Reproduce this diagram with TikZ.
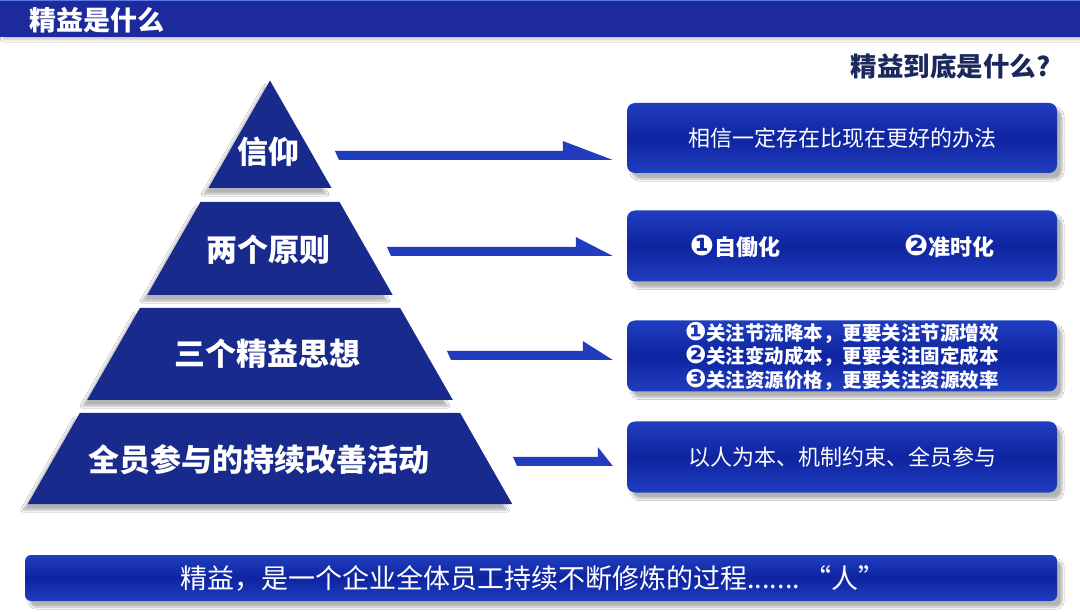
\documentclass[tikz,border=0pt]{standalone}
\usepackage{fontspec}
\setmainfont{Noto Sans CJK SC}
\newfontfamily\dingfont{DejaVu Sans}[Scale=1.3]
\usetikzlibrary{positioning, calc, shadows.blur}

\definecolor{headblue}{RGB}{28,42,158}
\definecolor{headline}{RGB}{90,120,225}
\definecolor{pyrblue}{RGB}{24,42,140}
\definecolor{cardblue}{RGB}{14,36,160}
\definecolor{cardtop}{RGB}{32,62,192}
\definecolor{harpblue}{RGB}{34,60,190}
\definecolor{asknavy}{RGB}{26,40,92}

% half-arrow from a start coordinate to the west side of a card
\newcommand{\harpoon}[3]{%
  \fill[harp] ($(#1)+(0,-4)$) -- ($(#2.west |- #1)+({-14-#3},-4)$)
    -- ($(#2.west |- #1)+({-14-#3},-14)$) -- ($(#2.west |- #1)+(-14,5)$)
    -- ($(#1)+(4,5)$) -- cycle;}

\begin{document}
\begin{tikzpicture}[
    x=1pt, y=-1pt,
    font=\fontsize{22}{26}\selectfont,
    tier/.style={fill=pyrblue, blur shadow={shadow xshift=-5pt, shadow yshift=-6pt,
                 shadow opacity=30, shadow blur steps=6}},
    tiertext/.style={text=white, font=\fontsize{31}{35}\selectfont\bfseries},
    card/.style={rounded corners=8pt, minimum width=430pt, minimum height=71pt,
                 top color=cardtop, bottom color=cardtop, middle color=cardblue,
                 text=white, align=left, inner sep=0pt,
                 blur shadow={shadow xshift=5pt, shadow yshift=-6pt,
                 shadow opacity=30, shadow blur steps=6}},
    harp/.style={fill=harpblue},
]
\useasboundingbox (0,0) rectangle (1080,612);
\fill[white] (0,0) rectangle (1080,612);

% ── header bar ───────────────────────────────────────────────────────────────
\node[fill=headblue, minimum width=1080pt, minimum height=37pt, inner sep=0pt,
      blur shadow={shadow yshift=-3pt, shadow opacity=20}] (head) at (540,18.5) {};
\draw[headline, line width=2pt] (head.north west) -- (head.north east);
\node[anchor=west, text=white, font=\fontsize{27}{30}\selectfont\bfseries] (title)
    at (26,20) {精益是什么};
\node[anchor=east, text=asknavy, font=\fontsize{26.5}{30}\selectfont\bfseries] (ask)
    at (1054,66) {精益到底是什么?};

% ── pyramid ──────────────────────────────────────────────────────────────────
\fill[tier] (270,80.5) -- (331.5,188) -- (208.5,188) -- cycle;
\fill[tier] (200.5,202) -- (339.5,202) -- (392.7,295) -- (147.3,295) -- cycle;
\fill[tier] (139.9,308) -- (400.1,308) -- (452.8,400) -- (87.2,400) -- cycle;
\fill[tier] (79.8,413) -- (460.2,413) -- (512.2,504) -- (27.8,504) -- cycle;

\node[tiertext] (t1) at (268,152) {信仰};
\node[tiertext] (t2) at (268,250) {两个原则};
\node[tiertext] (t3) at (267,354) {三个精益思想};
\node[tiertext] (t4) at (259,460) {全员参与的持续改善活动};

% ── cards ────────────────────────────────────────────────────────────────────
\node[card, minimum height=70pt] (b1) at (842,138) {相信一定存在比现在更好的办法};
\node[card, font=\fontsize{22}{26}\selectfont\bfseries] (b2) at (842,246)
    {{\dingfont ❶}自働化\hspace{124pt}{\dingfont ❷}准时化};
\node[card, font=\fontsize{19.5}{23.5}\selectfont\bfseries] (b3) at (842,356)
    {{\dingfont ❶}关注节流降本，更要关注节源增效\\
     {\dingfont ❷}关注变动成本，更要关注固定成本\\
     {\dingfont ❸}关注资源价格，更要关注资源效率};
\node[card] (b4) at (842,457) {以人为本、机制约束、全员参与};

% ── arrows ───────────────────────────────────────────────────────────────────
\coordinate (a1) at (335,155);
\coordinate (a2) at (387,251);
\coordinate (a3) at (447,355);
\coordinate (a4) at (513,461);
\harpoon{a1}{b1}{50}
\harpoon{a2}{b2}{37}
\harpoon{a3}{b3}{30}
\harpoon{a4}{b4}{15}

% ── bottom statement ─────────────────────────────────────────────────────────
\node[card, minimum width=1032pt, minimum height=46pt, rounded corners=6pt,
      font=\fontsize{27}{30}\selectfont] (foot) at (541,578)
    {\hspace{-16pt}精益，是一个企业全体员工持续不断修炼的过程.......\,“人”};

\end{tikzpicture}
\end{document}
